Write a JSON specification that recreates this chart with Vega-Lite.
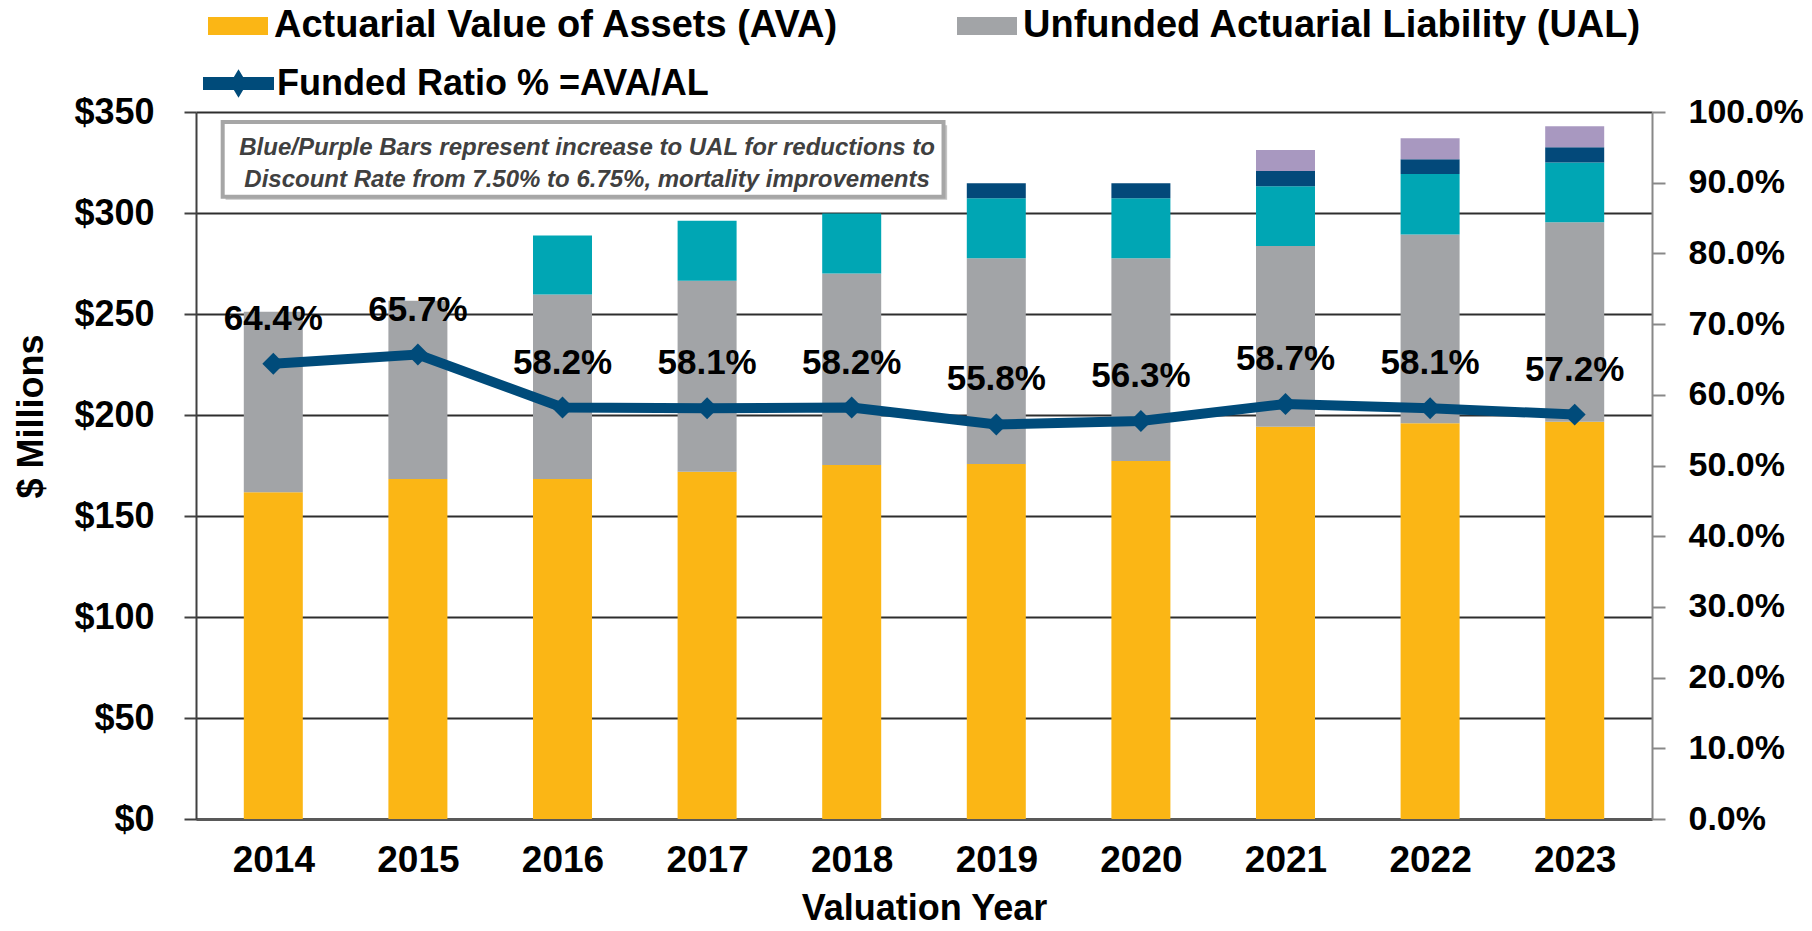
{
  "$schema": "https://vega.github.io/schema/vega-lite/v6.json",
  "width": 1456,
  "height": 707,
  "autosize": {"type": "none"},
  "padding": {"left": 196, "top": 112, "right": 160, "bottom": 112},
  "background": "white",
  "config": {"view": {"stroke": null}, "font": "Liberation Sans"},
  "datasets": {
    "bars": [
      {"year": 2014, "series": "AVA", "value": 161.7, "order": 1},
      {"year": 2014, "series": "UAL", "value": 89.4, "order": 2},
      {"year": 2015, "series": "AVA", "value": 168.3, "order": 1},
      {"year": 2015, "series": "UAL", "value": 88.2, "order": 2},
      {"year": 2016, "series": "AVA", "value": 168.3, "order": 1},
      {"year": 2016, "series": "UAL", "value": 91.4, "order": 2},
      {"year": 2016, "series": "DR1", "value": 29.1, "order": 3},
      {"year": 2017, "series": "AVA", "value": 171.9, "order": 1},
      {"year": 2017, "series": "UAL", "value": 94.6, "order": 2},
      {"year": 2017, "series": "DR1", "value": 29.7, "order": 3},
      {"year": 2018, "series": "AVA", "value": 175.2, "order": 1},
      {"year": 2018, "series": "UAL", "value": 94.9, "order": 2},
      {"year": 2018, "series": "DR1", "value": 29.7, "order": 3},
      {"year": 2019, "series": "AVA", "value": 175.7, "order": 1},
      {"year": 2019, "series": "UAL", "value": 101.9, "order": 2},
      {"year": 2019, "series": "DR1", "value": 29.7, "order": 3},
      {"year": 2019, "series": "DR2", "value": 7.4, "order": 4},
      {"year": 2020, "series": "AVA", "value": 177.2, "order": 1},
      {"year": 2020, "series": "UAL", "value": 100.4, "order": 2},
      {"year": 2020, "series": "DR1", "value": 29.7, "order": 3},
      {"year": 2020, "series": "DR2", "value": 7.4, "order": 4},
      {"year": 2021, "series": "AVA", "value": 194.2, "order": 1},
      {"year": 2021, "series": "UAL", "value": 89.5, "order": 2},
      {"year": 2021, "series": "DR1", "value": 29.5, "order": 3},
      {"year": 2021, "series": "DR2", "value": 7.6, "order": 4},
      {"year": 2021, "series": "DR3", "value": 10.4, "order": 5},
      {"year": 2022, "series": "AVA", "value": 195.9, "order": 1},
      {"year": 2022, "series": "UAL", "value": 93.5, "order": 2},
      {"year": 2022, "series": "DR1", "value": 29.9, "order": 3},
      {"year": 2022, "series": "DR2", "value": 7.3, "order": 4},
      {"year": 2022, "series": "DR3", "value": 10.4, "order": 5},
      {"year": 2023, "series": "AVA", "value": 196.7, "order": 1},
      {"year": 2023, "series": "UAL", "value": 98.7, "order": 2},
      {"year": 2023, "series": "DR1", "value": 29.6, "order": 3},
      {"year": 2023, "series": "DR2", "value": 7.5, "order": 4},
      {"year": 2023, "series": "DR3", "value": 10.5, "order": 5}
    ],
    "ratio": [
      {"year": 2014, "ratio": 0.644},
      {"year": 2015, "ratio": 0.657},
      {"year": 2016, "ratio": 0.582},
      {"year": 2017, "ratio": 0.581},
      {"year": 2018, "ratio": 0.582},
      {"year": 2019, "ratio": 0.558},
      {"year": 2020, "ratio": 0.563},
      {"year": 2021, "ratio": 0.587},
      {"year": 2022, "ratio": 0.581},
      {"year": 2023, "ratio": 0.572}
    ],
    "note": [
      {"note": "Blue/Purple Bars represent increase to UAL for reductions to\nDiscount Rate from 7.50% to 6.75%, mortality improvements"}
    ]
  },
  "layer": [
    {
      "layer": [
        {
          "data": {"name": "bars"},
          "mark": {"type": "bar", "size": 59},
          "encoding": {
            "x": {
              "field": "year", "type": "quantitative",
              "scale": {"domain": [2013.5, 2023.5], "nice": false, "zero": false},
              "axis": {
                "title": "Valuation Year",
                "values": [2014, 2015, 2016, 2017, 2018, 2019, 2020, 2021, 2022, 2023],
                "format": "d",
                "labelFontSize": 37, "labelFontWeight": "bold", "labelColor": "#000",
                "labelPadding": 23, "labelFlush": false,
                "ticks": false, "grid": false,
                "domainColor": "#595959", "domainWidth": 3,
                "titleFontSize": 36, "titleFontWeight": "bold", "titleColor": "#000", "titlePadding": 13
              }
            },
            "y": {
              "field": "value", "type": "quantitative", "aggregate": "sum", "stack": "zero",
              "scale": {"domain": [0, 350], "nice": false},
              "axis": {
                "title": "$ Millions",
                "values": [0, 50, 100, 150, 200, 250, 300, 350],
                "labelExpr": "'$' + datum.value",
                "labelFontSize": 36, "labelFontWeight": "bold", "labelColor": "#000",
                "labelPadding": 30,
                "tickSize": 12, "tickColor": "#404040", "tickWidth": 2,
                "domainColor": "#404040", "domainWidth": 2,
                "grid": true, "gridColor": "#2e2e2e", "gridWidth": 2,
                "titleFontSize": 36, "titleFontWeight": "bold", "titleColor": "#000",
                "titleX": -165, "titleY": 304, "titleAlign": "center", "titleBaseline": "middle", "titleAngle": -90
              }
            },
            "order": {"field": "order", "type": "quantitative", "sort": "ascending"},
            "color": {
              "field": "series", "type": "nominal",
              "scale": {"domain": ["AVA", "UAL", "DR1", "DR2", "DR3"], "range": ["#FBB615", "#A2A4A7", "#00A6B4", "#03497A", "#A898C0"]},
              "legend": {
                "orient": "none", "legendX": 12, "legendY": -116,
                "direction": "horizontal", "columns": 2, "columnPadding": 118,
                "values": ["AVA", "UAL"],
                "labelExpr": "datum.label == 'AVA' ? 'Actuarial Value of Assets (AVA)' : 'Unfunded Actuarial Liability (UAL)'",
                "labelFontSize": 38, "labelFontWeight": "bold", "labelColor": "#000", "labelLimit": 0,
                "labelOffset": 6,
                "symbolType": "M-1,-0.3L1,-0.3L1,0.3L-1,0.3Z", "symbolSize": 3600, "symbolStrokeWidth": 0,
                "title": null, "padding": 0
              }
            }
          }
        },
        {
          "data": {"name": "note"},
          "mark": {"type": "rect", "fill": "#c4c4c4"},
          "encoding": {
            "x": {"datum": 2013.67, "type": "quantitative"},
            "x2": {"datum": 2018.66},
            "y": {"datum": 343.5, "type": "quantitative"},
            "y2": {"datum": 306.5}
          }
        },
        {
          "data": {"name": "note"},
          "mark": {"type": "rect", "fill": "white", "stroke": "#a6a6a6", "strokeWidth": 4},
          "encoding": {
            "x": {"datum": 2013.65, "type": "quantitative"},
            "x2": {"datum": 2018.635},
            "y": {"datum": 345, "type": "quantitative"},
            "y2": {"datum": 308}
          }
        },
        {
          "data": {"name": "note"},
          "mark": {"type": "text", "fontSize": 24, "fontWeight": "bold", "fontStyle": "italic", "color": "#404040", "lineBreak": "\n", "lineHeight": 32, "align": "center", "baseline": "middle"},
          "encoding": {
            "x": {"datum": 2016.17, "type": "quantitative"},
            "y": {"datum": 332, "type": "quantitative"},
            "text": {"field": "note"}
          }
        }
      ]
    },
    {
      "data": {"name": "ratio"},
      "layer": [
        {
          "mark": {"type": "line", "strokeWidth": 10},
          "encoding": {
            "x": {"field": "year", "type": "quantitative"},
            "y": {
              "field": "ratio", "type": "quantitative",
              "scale": {"domain": [0, 1], "nice": false},
              "axis": {
                "orient": "right", "title": null,
                "values": [0, 0.1, 0.2, 0.3, 0.4, 0.5, 0.6, 0.7, 0.8, 0.9, 1.0],
                "format": ".1%",
                "labelFontSize": 34, "labelFontWeight": "bold", "labelColor": "#000",
                "labelPadding": 23,
                "tickSize": 13, "tickColor": "#888888", "tickWidth": 2,
                "domainColor": "#888888", "domainWidth": 2, "grid": false
              }
            },
            "stroke": {
              "datum": "Funded Ratio % =AVA/AL", "type": "nominal",
              "scale": {"range": ["#004B7A"]},
              "legend": {
                "orient": "none", "legendX": 7, "legendY": -64,
                "labelFontSize": 36, "labelFontWeight": "bold", "labelColor": "#000", "labelLimit": 0,
                "labelOffset": 3,
                "symbolType": "M-1,-0.18L1,-0.18L1,0.18L-1,0.18Z M0,-0.4L0.24,0L0,0.4L-0.24,0Z",
                "symbolSize": 5041, "symbolStrokeWidth": 0,
                "title": null, "padding": 0,
                "encode": {"symbols": {"update": {"fill": {"value": "#004B7A"}, "stroke": {"value": "#004B7A"}, "strokeWidth": {"value": 0}}}}
              }
            }
          }
        },
        {
          "mark": {"type": "point", "shape": "diamond", "filled": true, "size": 480, "color": "#004B7A", "opacity": 1},
          "encoding": {
            "x": {"field": "year", "type": "quantitative"},
            "y": {"field": "ratio", "type": "quantitative"}
          }
        },
        {
          "mark": {"type": "text", "fontSize": 35, "fontWeight": "bold", "color": "#000", "dy": -45, "baseline": "middle", "align": "center"},
          "encoding": {
            "x": {"field": "year", "type": "quantitative"},
            "y": {"field": "ratio", "type": "quantitative"},
            "text": {"field": "ratio", "type": "quantitative", "format": ".1%"}
          }
        }
      ]
    }
  ],
  "resolve": {"scale": {"y": "independent"}}
}
